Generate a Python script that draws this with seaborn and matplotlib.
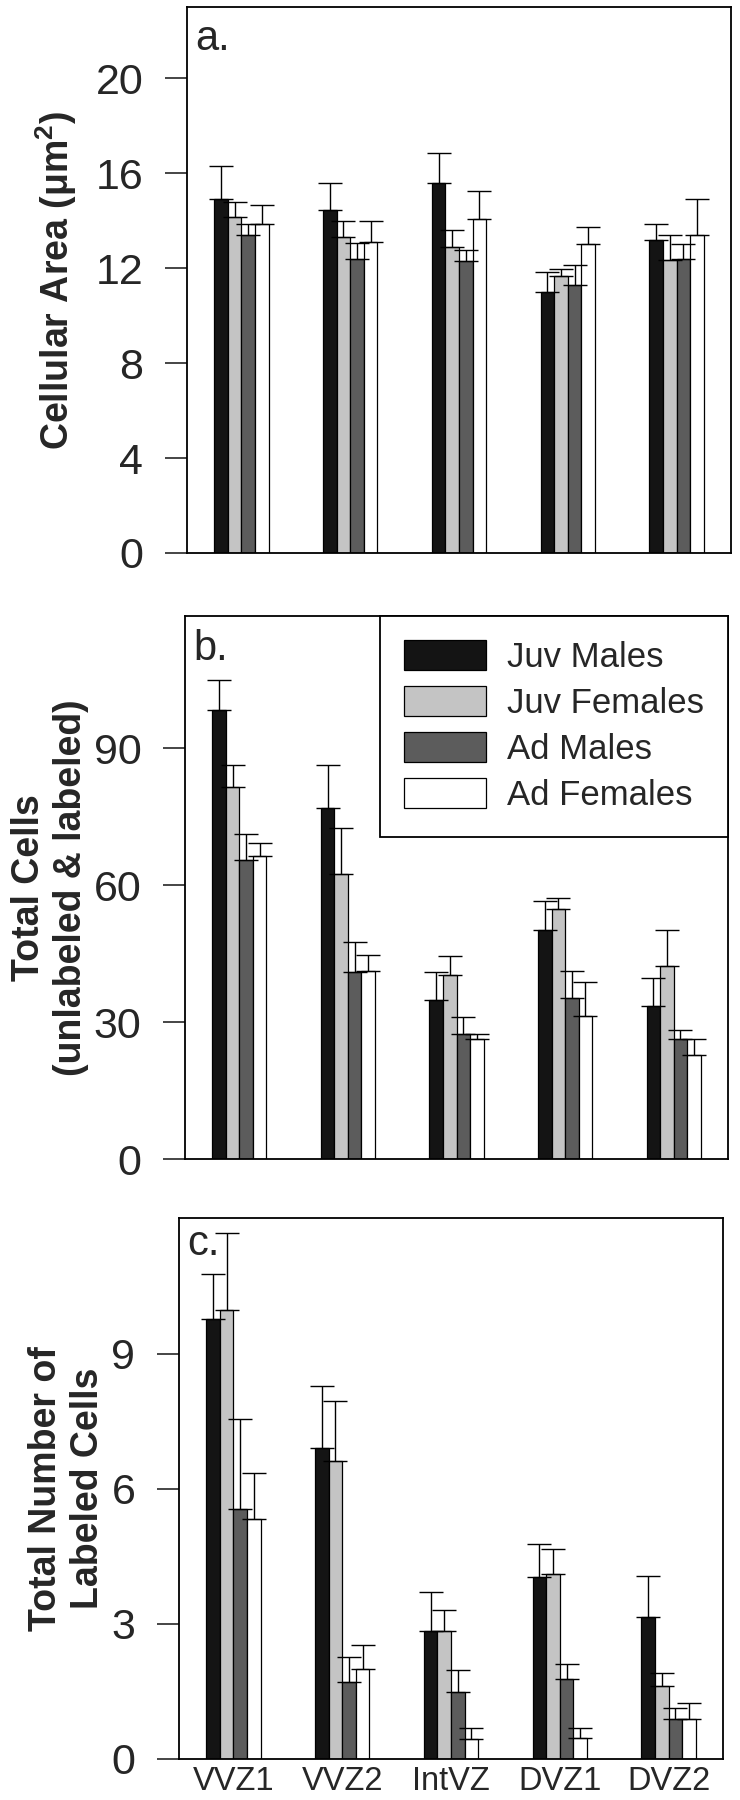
import numpy as np
import pandas as pd
import matplotlib
matplotlib.use("Agg")
import matplotlib.pyplot as plt
import seaborn as sns

regions = ['VVZ1', 'VVZ2', 'IntVZ', 'DVZ1', 'DVZ2']
groups = ['Juv Males', 'Juv Females', 'Ad Males', 'Ad Females']
colors = ['#141414', '#c4c4c4', '#5c5c5c', '#ffffff']

# a. cellular area (um^2), rows = groups, cols = regions
area_mean = [[14.9, 14.45, 15.6, 11.0, 13.2],
             [14.15, 13.3, 12.9, 11.65, 12.35],
             [13.4, 12.4, 12.3, 11.3, 12.4],
             [13.85, 13.1, 14.05, 13.0, 13.4]]
area_err = [[1.4, 1.15, 1.25, 0.85, 0.65],
            [0.65, 0.7, 0.7, 0.3, 1.05],
            [0.45, 0.65, 0.45, 0.85, 0.6],
            [0.8, 0.9, 1.2, 0.75, 1.5]]

# b. total cells
total_mean = [[98.3, 76.9, 34.8, 50.1, 33.5],
              [81.5, 62.5, 40.4, 54.7, 42.3],
              [65.5, 41.0, 27.4, 35.2, 26.4],
              [66.5, 41.1, 26.4, 31.3, 22.8]]
total_err = [[6.6, 9.5, 6.2, 6.4, 6.2],
             [4.9, 10.0, 4.0, 2.6, 7.8],
             [5.8, 6.6, 3.7, 5.9, 1.9],
             [2.7, 3.6, 0.9, 7.5, 3.4]]

# c. labeled cells
labeled_mean = [[9.77, 6.91, 2.85, 4.05, 3.16],
                [9.97, 6.61, 2.85, 4.11, 1.62],
                [5.56, 1.71, 1.49, 1.78, 0.88],
                [5.33, 2.00, 0.45, 0.47, 0.88]]
labeled_err = [[1.01, 1.38, 0.85, 0.72, 0.90],
               [1.71, 1.34, 0.47, 0.56, 0.29],
               [1.99, 0.56, 0.49, 0.34, 0.26],
               [1.02, 0.54, 0.24, 0.22, 0.37]]

sns.set_style("ticks")
plt.rcParams['font.family'] = ['Liberation Sans', 'DejaVu Sans']
plt.rcParams['mathtext.fontset'] = 'custom'
plt.rcParams['mathtext.rm'] = 'Liberation Sans'
plt.rcParams['mathtext.bf'] = 'Liberation Sans:bold'


def to_long(means):
    rows = []
    for g, vals in zip(groups, means):
        for r, v in zip(regions, vals):
            rows.append({'region': r, 'group': g, 'value': v})
    return pd.DataFrame(rows)


panels = [
    dict(mean=area_mean, err=area_err, ylim=23, ticks=[0, 4, 8, 12, 16, 20],
         ylabel='Cellular Area (μm$^{\\mathbf{2}}$)', lx=-0.241,
         letter='a.', ly=0.921, rect=[0.2527, 0.6928, 0.7351, 0.3033]),
    dict(mean=total_mean, err=total_err, ylim=119, ticks=[0, 30, 60, 90],
         ylabel='Total Cells\n(unlabeled & labeled)', lx=-0.249,
         letter='b.', ly=0.919, rect=[0.25, 0.3561, 0.7338, 0.3017]),
    dict(mean=labeled_mean, err=labeled_err, ylim=12.02, ticks=[0, 3, 6, 9],
         ylabel='Total Number of\nLabeled Cells', lx=-0.206,
         letter='c.', ly=0.932, rect=[0.2419, 0.0228, 0.7351, 0.3006]),
]

fig = plt.figure(figsize=(7.4, 18), dpi=100)

for i, p in enumerate(panels):
    ax = fig.add_axes(p['rect'])
    df = to_long(p['mean'])
    sns.barplot(data=df, x='region', y='value', hue='group', order=regions,
                hue_order=groups, palette=colors, width=0.5, errorbar=None,
                edgecolor='black', linewidth=0.9, saturation=1,
                legend=(i == 1), ax=ax)

    # upper-only error bars
    for cont, errs in zip(ax.containers, p['err']):
        xs = [b.get_x() + b.get_width() / 2 for b in cont]
        hs = [b.get_height() for b in cont]
        ax.errorbar(xs, hs, yerr=[np.zeros(len(errs)), errs], fmt='none',
                    ecolor='black', elinewidth=1.0, capsize=8.3, capthick=1.0,
                    zorder=1)

    ax.set_xlim(-0.5, 4.5)
    ax.set_ylim(0, p['ylim'])
    ax.set_yticks(p['ticks'])
    ax.tick_params(axis='y', direction='out', length=15.5, width=1.2,
                   pad=16, labelsize=31)
    if i < 2:
        ax.tick_params(axis='x', length=0, labelbottom=False)
    else:
        ax.tick_params(axis='x', length=0, pad=5, labelsize=23.5)
    ax.set_xlabel('')
    ax.set_ylabel(p['ylabel'], fontsize=27, fontweight='bold', va='center')
    ax.yaxis.set_label_coords(p['lx'], 0.5)
    for s in ax.spines.values():
        s.set_visible(True)
        s.set_linewidth(1.3)
        s.set_color('black')
    ax.text(0.015, p['ly'], p['letter'], transform=ax.transAxes,
            fontsize=30, va='baseline', ha='left')

    if i == 1:
        sns.move_legend(ax, 'upper right', title=None, fontsize=25,
                        frameon=True, fancybox=False, framealpha=1,
                        edgecolor='black', borderaxespad=0, borderpad=0.7,
                        handlelength=2.36, handleheight=0.95,
                        labelspacing=0.35, handletextpad=0.6)
        ax.get_legend().get_frame().set_linewidth(1.3)

fig.savefig('out.png', dpi=100)
